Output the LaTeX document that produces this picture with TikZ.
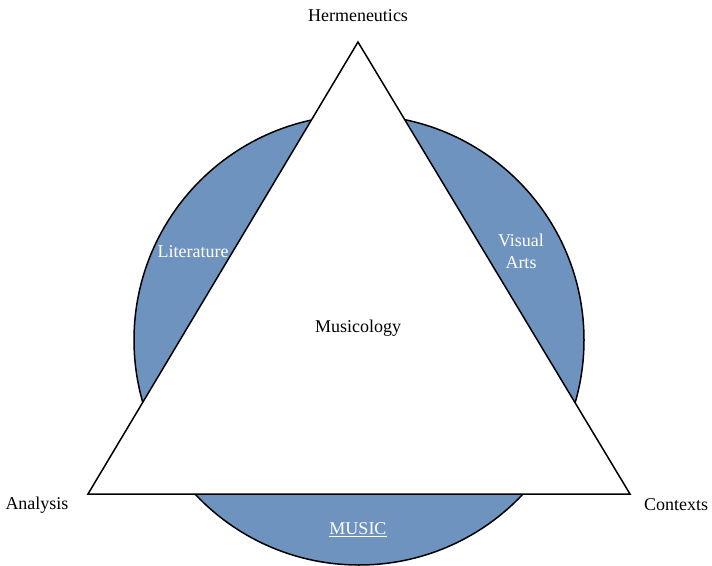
\documentclass[tikz,border=0pt]{standalone}
\usepackage{fontspec}
\setmainfont{Liberation Serif}
\usepackage{tikz}
\usetikzlibrary{positioning, calc}
\definecolor{fieldblue}{HTML}{6F93BF}

\begin{document}
\begin{tikzpicture}[x=1pt, y=-1pt, every node/.style={font=\fontsize{18}{22}\selectfont}]
    \tikzset{
        field/.style={text=white, align=center},
        corner/.style={text=black}
    }
    \def\cx{359}
    \def\cy{340}
    \def\rad{225}
    \useasboundingbox (0,0) rectangle (712,565);
    % Kreis der Disziplinen
    \filldraw[fill=fieldblue, draw=black, line width=1.5pt] (\cx,\cy) circle (\rad);
    % Dreieck
    \coordinate (top) at (358,42);
    \coordinate (left) at (88,494);
    \coordinate (right) at (630,494);
    \filldraw[fill=white, draw=black, line width=1.5pt, line join=miter] (top) -- (left) -- (right) -- cycle;
    % Ecken
    \node[corner] (herm) at (358,16) {Hermeneutics};
    \node[corner] (anal) at (37,505) {Analysis};
    \node[corner] (cont) at (676,505) {Contexts};
    \node (musy) at (358,328) {Musicology};
    % Felder
    \node[field] (lit) at (193,252) {Literature};
    \node[field] (vis) at (521,251) {Visual\\Arts};
    \node[field] (mus) at (358,530) {\underline{MUSIC}};
\end{tikzpicture}
\end{document}
